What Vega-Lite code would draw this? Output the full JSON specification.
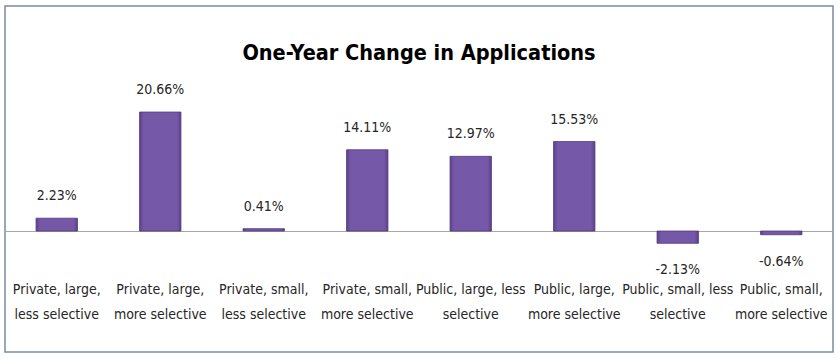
{
  "$schema": "https://vega.github.io/schema/vega-lite/v6.json",
  "autosize": "none",
  "width": 828,
  "height": 346,
  "padding": {"left": 5, "right": 5, "top": 6, "bottom": 7},
  "background": "#ffffff",
  "config": {
    "view": {"stroke": "#7a8aa3", "strokeWidth": 1.5},
    "font": "'DejaVu Sans Condensed', 'DejaVu Sans', sans-serif"
  },
  "title": {
    "text": "One-Year Change in Applications",
    "anchor": "middle",
    "orient": "top",
    "offset": -58,
    "fontSize": 21.5,
    "fontWeight": "bold",
    "color": "#000000",
    "font": "'DejaVu Sans Condensed', 'DejaVu Sans', sans-serif"
  },
  "data": {
    "values": [
      {"category": "Private, large,\nless selective", "change": 0.0223},
      {"category": "Private, large,\nmore selective", "change": 0.2066},
      {"category": "Private, small,\nless selective", "change": 0.0041},
      {"category": "Private, small,\nmore selective", "change": 0.1411},
      {"category": "Public, large, less\nselective", "change": 0.1297},
      {"category": "Public, large,\nmore selective", "change": 0.1553},
      {"category": "Public, small, less\nselective", "change": -0.0213},
      {"category": "Public, small,\nmore selective", "change": -0.0064}
    ]
  },
  "encoding": {
    "x": {
      "field": "category",
      "type": "nominal",
      "sort": null,
      "scale": {"paddingInner": 0.6, "paddingOuter": 0.3},
      "axis": {
        "title": null,
        "orient": "bottom",
        "offset": -72,
        "labelPadding": 2,
        "ticks": false,
        "domain": false,
        "labelAngle": 0,
        "labelFontSize": 14,
        "labelColor": "#262626",
        "labelBaseline": "top",
        "labelLineHeight": 25,
        "labelExpr": "split(datum.label, '\\n')"
      }
    },
    "y": {
      "field": "change",
      "type": "quantitative",
      "scale": {"domain": [-0.21, 0.3907], "nice": false, "zero": false},
      "axis": {
        "title": null,
        "values": [0],
        "grid": true,
        "gridColor": "#a6a6a6",
        "gridWidth": 1,
        "gridOpacity": 1,
        "labels": false,
        "ticks": false,
        "domain": false
      }
    }
  },
  "layer": [
    {
      "mark": {
        "type": "bar",
        "stroke": "#4f3a7a",
        "strokeWidth": 0.8,
        "fill": {
          "gradient": "linear",
          "x1": 0, "x2": 1, "y1": 0, "y2": 0,
          "stops": [
            {"offset": 0, "color": "#5b428c"},
            {"offset": 0.1, "color": "#7658a8"},
            {"offset": 0.9, "color": "#7658a8"},
            {"offset": 1, "color": "#5b428c"}
          ]
        }
      }
    },
    {
      "transform": [{"filter": "datum.change >= 0"}],
      "mark": {"type": "text", "dy": -22, "fontSize": 14, "color": "#262626", "baseline": "middle",
        "text": {"expr": "replace(format(datum.change, '.2%'), '\u2212', '-')"}}
    },
    {
      "transform": [{"filter": "datum.change < 0"}],
      "mark": {"type": "text", "dy": 27, "fontSize": 14, "color": "#262626", "baseline": "middle",
        "text": {"expr": "replace(format(datum.change, '.2%'), '\u2212', '-')"}}
    }
  ]
}
